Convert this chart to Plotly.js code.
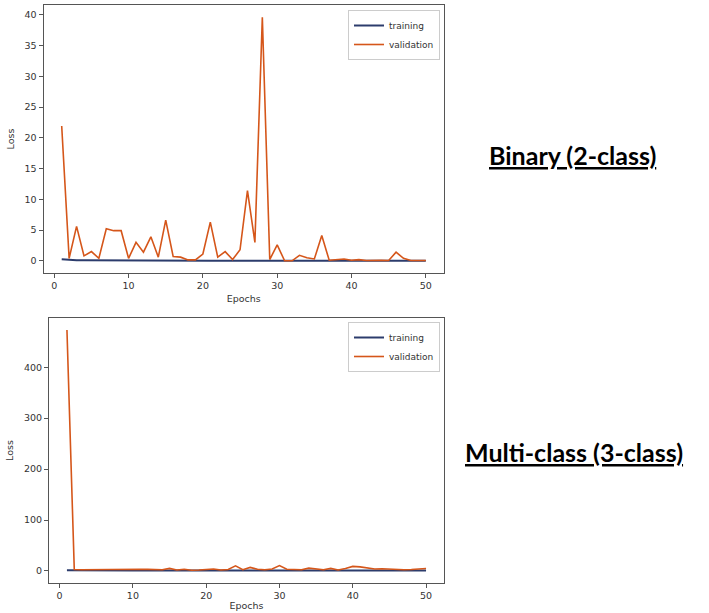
<!DOCTYPE html>
<html>
<head>
<meta charset="utf-8">
<script src="https://cdn.plot.ly/plotly-3.0.1.min.js"></script>
<style>html,body{margin:0;padding:0;background:#fff;}#chart{width:709px;height:613px;}</style>
</head>
<body>
<div id="chart"></div>
<script>
const epochs = [1,2,3,4,5,6,7,8,9,10,11,12,13,14,15,16,17,18,19,20,21,22,23,24,25,26,27,28,29,30,31,32,33,34,35,36,37,38,39,40,41,42,43,44,45,46,47,48,49,50];

const binaryTraining = [0.25,0.12,0.09,0.08,0.07,0.07,0.06,0.06,0.05,0.05,0.05,0.05,0.05,0.04,0.04,0.04,0.04,0.04,0.04,0.03,0.03,0.03,0.03,0.03,0.03,0.03,0.03,0.03,0.03,0.03,0.03,0.03,0.03,0.03,0.02,0.02,0.02,0.02,0.02,0.02,0.02,0.02,0.02,0.02,0.02,0.02,0.02,0.02,0.02,0.02];
const binaryValidation = [21.9,0.4,5.6,0.8,1.5,0.4,5.2,4.9,4.9,0.4,3.0,1.4,3.9,0.6,6.6,0.7,0.6,0.15,0.15,1.1,6.3,0.6,1.5,0.2,1.8,11.4,3.0,39.6,0.2,2.6,0.0,0.0,0.9,0.5,0.3,4.1,0.1,0.2,0.3,0.1,0.2,0.05,0.1,0.1,0.05,1.4,0.4,0.05,0.05,0.05];

const multiTraining = [1.2,1.0,0.95,0.9,0.9,0.9,0.9,0.85,0.85,0.85,0.85,0.85,0.8,0.8,0.8,0.8,0.8,0.8,0.8,0.8,0.8,0.8,0.8,0.8,0.8,0.8,0.8,0.8,0.8,0.8,0.8,0.8,0.8,0.8,0.8,0.8,0.8,0.8,0.8,0.8,0.8,0.8,0.8,0.8,0.8,0.8,0.8,0.8,0.8,0.8];
const multiValidation = [473,3,2.5,2.8,2.7,2.9,3,3.5,4,3.8,3.5,3.2,3,2.5,5,1.8,3.5,1.5,2,2.5,4,2,3,10,2.5,7,3.5,2.5,4,10.5,3.5,3,2.5,5.5,4,2.5,5,2,5,9,8,5.5,4,4.5,3.5,2.5,2.5,3,4,5];

const seriesNames = ['training', 'validation'];
const panelLabels = ['Binary (2-class)', 'Multi-class (3-class)'];

const trainColor = '#2c3c6c';
const valColor = '#d5561a';
const W = 709, H = 613;

const traces = [
  {x: epochs, y: binaryTraining, name: seriesNames[0], mode: 'lines', line: {color: trainColor, width: 2}, xaxis: 'x', yaxis: 'y', legend: 'legend'},
  {x: epochs, y: binaryValidation, name: seriesNames[1], mode: 'lines', line: {color: valColor, width: 1.6}, xaxis: 'x', yaxis: 'y', legend: 'legend'},
  {x: epochs, y: multiTraining, name: seriesNames[0], mode: 'lines', line: {color: trainColor, width: 2}, xaxis: 'x2', yaxis: 'y2', legend: 'legend2'},
  {x: epochs, y: multiValidation, name: seriesNames[1], mode: 'lines', line: {color: valColor, width: 1.6}, xaxis: 'x2', yaxis: 'y2', legend: 'legend2'}
];

const tickFont = {family: 'DejaVu Sans', size: 9.5, color: '#333'};
const titleFont = {family: 'DejaVu Sans', size: 9.5, color: '#333'};
function axisBase(extra) {
  return Object.assign({
    showline: true, mirror: true, linecolor: '#555', linewidth: 1,
    showgrid: false, zeroline: false,
    ticks: 'outside', ticklen: 4, tickwidth: 1, tickcolor: '#555',
    tickfont: tickFont
  }, extra);
}

const legendBase = {
  font: {family: 'DejaVu Sans', size: 9, color: '#333'},
  bgcolor: 'rgba(255,255,255,0.9)', bordercolor: '#ccc', borderwidth: 1,
  xanchor: 'right', yanchor: 'top', tracegroupgap: 0, itemwidth: 30
};

const layout = {
  width: W, height: H,
  margin: {l: 0, r: 0, t: 0, b: 0},
  paper_bgcolor: '#fff', plot_bgcolor: '#fff',
  showlegend: true,
  xaxis: axisBase({domain: [43.5/W, 444/W], range: [-1.45, 52.45], tickvals: [0,10,20,30,40,50], anchor: 'y',
    title: {text: 'Epochs', font: titleFont, standoff: 4}}),
  yaxis: axisBase({domain: [1-273/H, 1-5/H], range: [-1.98, 41.58], tickvals: [0,5,10,15,20,25,30,35,40], anchor: 'x',
    title: {text: 'Loss', font: titleFont, standoff: 8}}),
  xaxis2: axisBase({domain: [49/W, 444/W], range: [-1.45, 52.45], tickvals: [0,10,20,30,40,50], anchor: 'y2',
    title: {text: 'Epochs', font: titleFont, standoff: 1}}),
  yaxis2: axisBase({domain: [1-583/H, 1-318/H], range: [-23.6, 496.6], tickvals: [0,100,200,300,400], anchor: 'x2',
    title: {text: 'Loss', font: titleFont, standoff: 8}}),
  legend: Object.assign({x: 440/W, y: 1-10/H}, legendBase),
  legend2: Object.assign({x: 440/W, y: 1-322/H}, legendBase),
  annotations: [
    {text: '<b><u>' + panelLabels[0] + '</u></b>', xref: 'paper', yref: 'paper', x: 572/W, y: 1-155/H,
     xanchor: 'center', yanchor: 'middle', showarrow: false, font: {family: 'Lato', size: 25, color: '#000'}},
    {text: '<b><u>' + panelLabels[1] + '</u></b>', xref: 'paper', yref: 'paper', x: 574/W, y: 1-452/H,
     xanchor: 'center', yanchor: 'middle', showarrow: false, font: {family: 'Lato', size: 25, color: '#000'}}
  ]
};

Plotly.newPlot('chart', traces, layout, {displayModeBar: false, staticPlot: true});
</script>
</body>
</html>
